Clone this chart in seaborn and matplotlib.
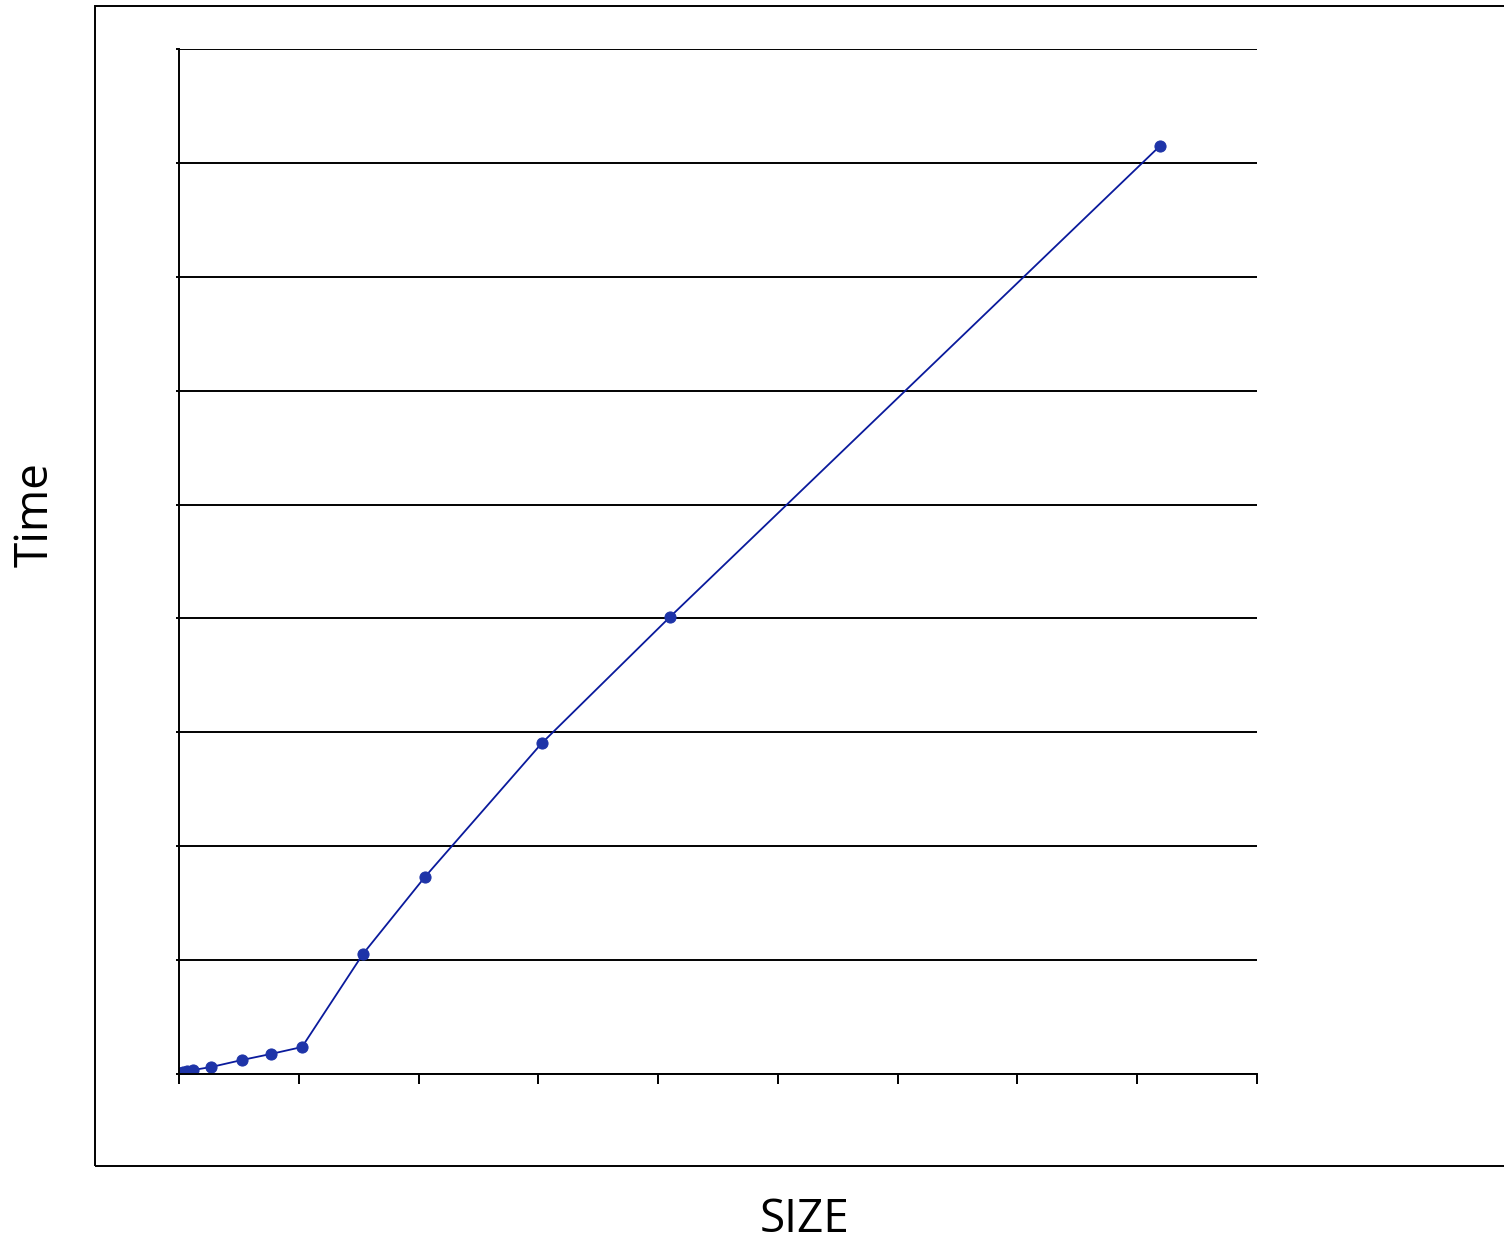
import matplotlib
matplotlib.use("Agg")
import matplotlib.pyplot as plt
import seaborn as sns
import pandas as pd
from matplotlib.patches import Rectangle

# data (grid units: 100 per tick / gridline)
size = [0.8, 3.3, 6.7, 11.7, 26.7, 52.6, 76.8, 102.7, 153.6, 205.3, 303.0, 409.8, 818.9]
time = [0.9, 1.8, 2.6, 3.5, 6.1, 12.3, 17.6, 23.7, 105.4, 173.0, 290.6, 401.2, 814.8]
x_ticks = list(range(0, 1000, 100))
y_ticks = list(range(0, 1000, 100))

df = pd.DataFrame({"SIZE": size, "Time": time})

sns.set_theme(style="white")
plt.rcParams["font.family"] = ["Open Sans", "DejaVu Sans"]

W, H = 1504, 1244
fig = plt.figure(figsize=(W / 100, H / 100), dpi=100)
ax = fig.add_axes([179 / W, 1 - 1074 / H, (1257 - 179) / W, (1074 - 49) / H])

# outer frame (chart area border, right edge runs off the image)
fig.patches.append(Rectangle((95 / W, 1 - 1166 / H), 1.2, (1166 - 6) / H,
                             transform=fig.transFigure, fill=False,
                             edgecolor="black", linewidth=1.4))

sns.lineplot(data=df, x="SIZE", y="Time", ax=ax, color="#0a1a9c", linewidth=1.3,
             marker="o", markersize=8, markerfacecolor="#1e34a8",
             markeredgecolor="#1e34a8", estimator=None, sort=False)

ax.set_xlim(0, 900)
ax.set_ylim(0, 900)
ax.set_xticks(x_ticks)
ax.set_yticks(y_ticks)
ax.set_xticklabels([])
ax.set_yticklabels([])
ax.grid(axis="y", color="black", linewidth=1.4)
ax.grid(axis="x", visible=False)
ax.set_axisbelow(True)
ax.tick_params(axis="x", direction="out", length=7, width=1.4, color="black", bottom=True)
ax.tick_params(axis="y", direction="out", length=2, width=1.4, color="black", left=True)
for side in ["top", "right"]:
    ax.spines[side].set_visible(False)
for side in ["left", "bottom"]:
    ax.spines[side].set_color("black")
    ax.spines[side].set_linewidth(1.4)

ax.set_xlabel("")
ax.set_ylabel("")
fig.text(805 / W, 1 - 1220 / H, "SIZE", fontsize=33, color="black", ha="center", va="center")
fig.text(36 / W, 1 - 515 / H, "Time", fontsize=33, color="black", ha="center", va="center", rotation=90)

fig.savefig("out.png", dpi=100, facecolor="white")
